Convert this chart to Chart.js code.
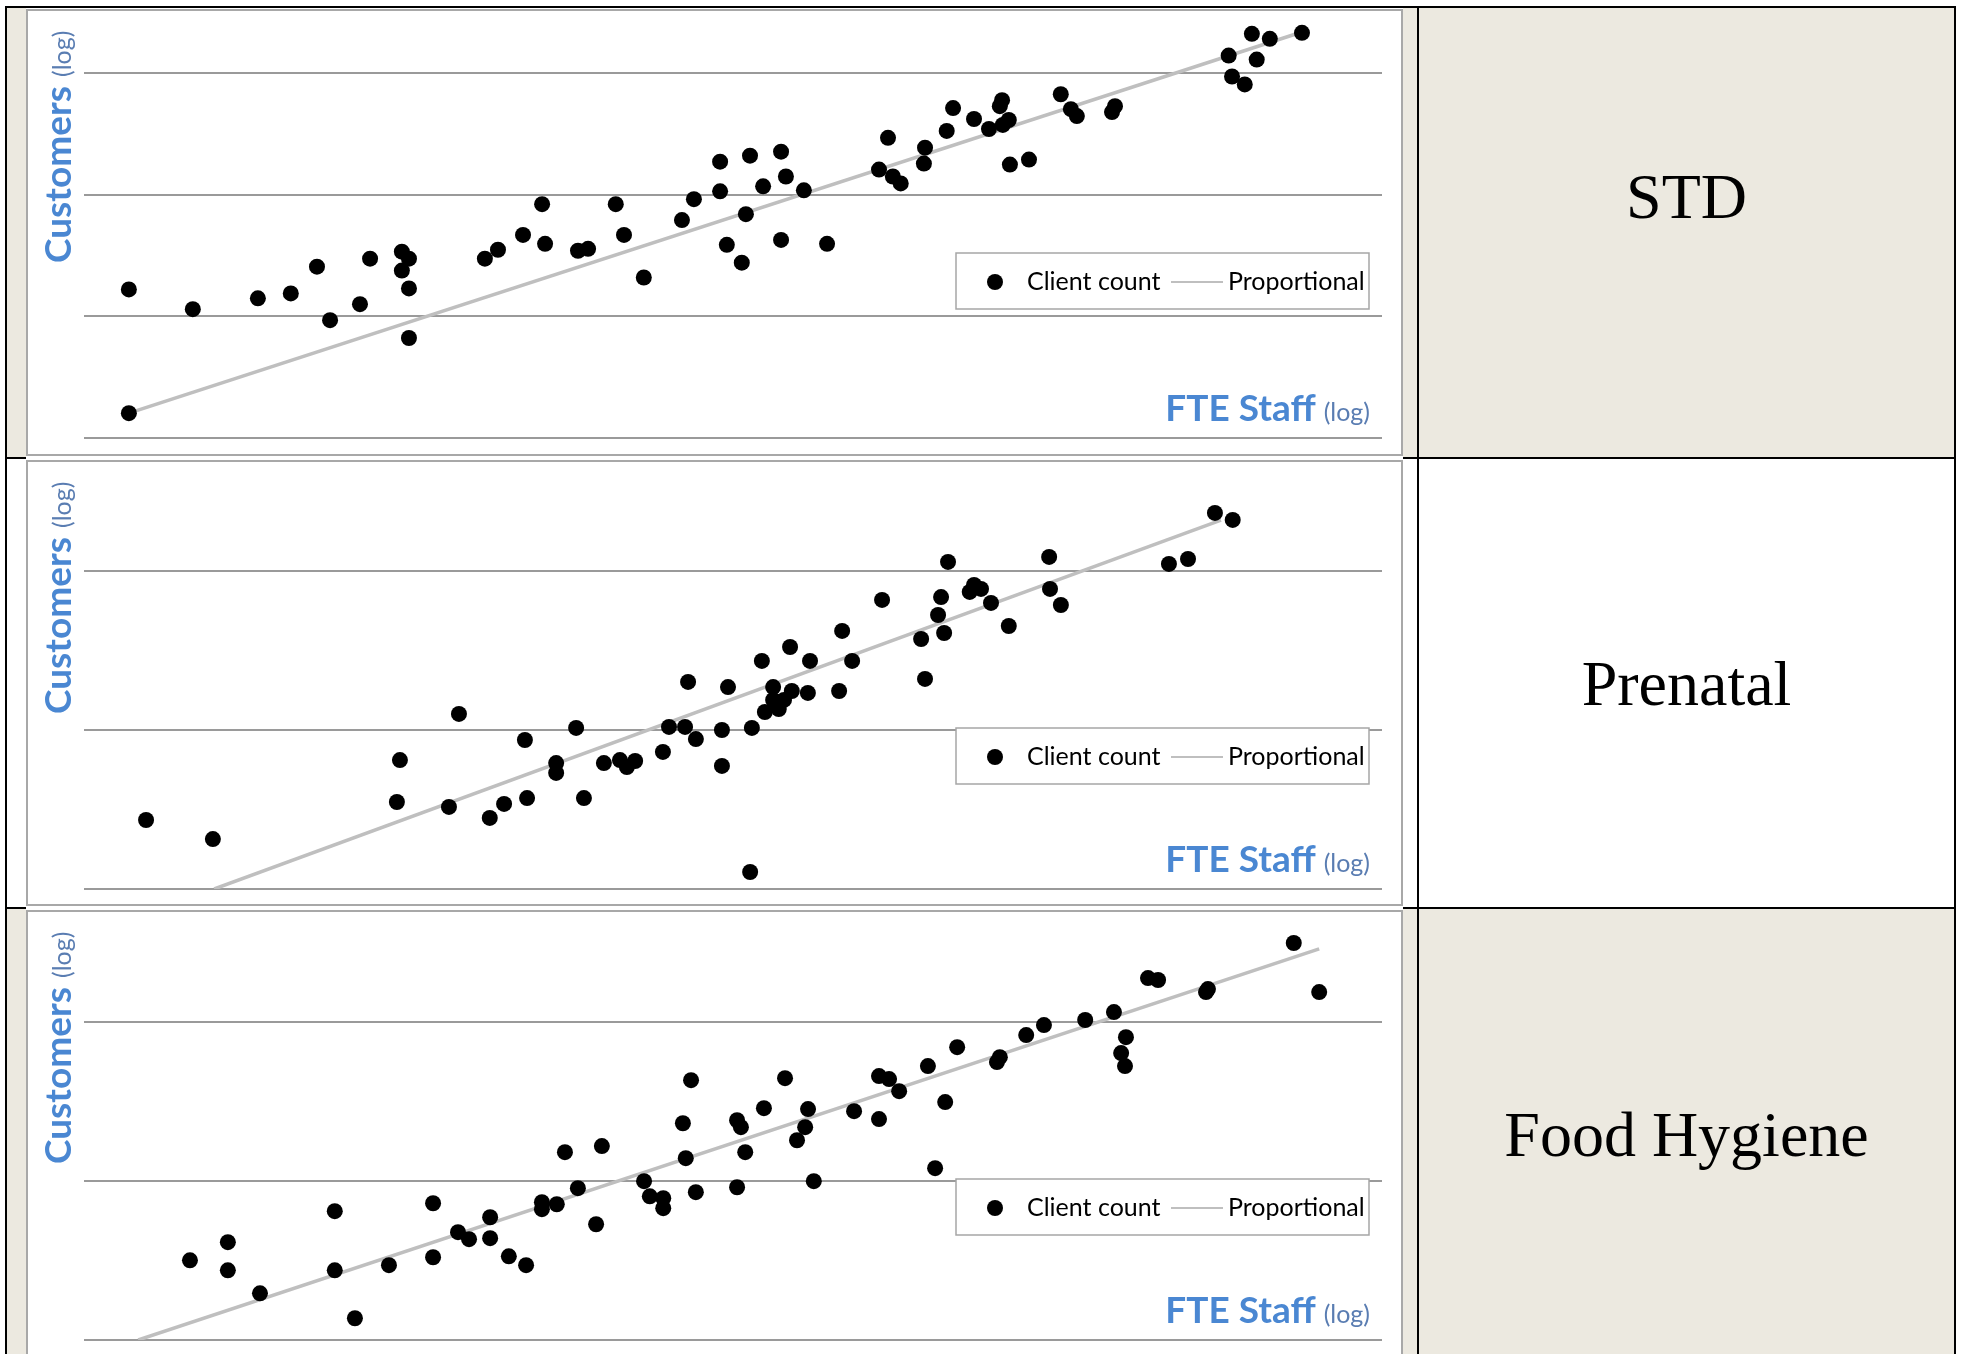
<!DOCTYPE html>
<html>
<head>
<meta charset="utf-8">
<script src="https://cdn.jsdelivr.net/npm/chart.js@4.4.1/dist/chart.umd.min.js"></script>
<style>
  html, body { margin: 0; padding: 0; background: #fff; }
  body { width: 1963px; height: 1354px; overflow: hidden; position: relative; }
  .abs { position: absolute; }
  .beige { background: #ECE9E0; }
  .rule { position: absolute; background: #000; }
  .cover { position: absolute; background: #fff; }
  .box { position: absolute; border: 2px solid #A8A8A8; background: #fff; }
  .box canvas { display: block; }
  .label {
    position: absolute; left: 1419px; width: 535px; text-align: center;
    font-family: "Liberation Serif", "Times New Roman", serif;
    font-size: 64px; line-height: 64px; color: #000; white-space: nowrap;
  }
</style>
</head>
<body>

<!-- table rows: shaded, plain, shaded -->
<div class="abs beige" style="left:7px; top:8px; width:1948px; height:449px;"></div>
<div class="abs beige" style="left:7px; top:909px; width:1948px; height:445px;"></div>

<!-- table rules -->
<div class="rule" style="left:5px; top:6px; width:1951px; height:2px;"></div>
<div class="rule" style="left:5px; top:457px; width:1951px; height:2px;"></div>
<div class="rule" style="left:5px; top:907px; width:1951px; height:2px;"></div>
<div class="rule" style="left:5px; top:6px; width:2px; height:1348px;"></div>
<div class="rule" style="left:1417px; top:6px; width:2px; height:1348px;"></div>
<div class="rule" style="left:1954px; top:6px; width:2px; height:1348px;"></div>

<!-- chart column background -->
<div class="cover" style="left:26px; top:8px; width:1377px; height:1346px;"></div>

<div class="box" style="left:26px; top:9px;"><canvas id="chartStd" width="1373" height="443"></canvas></div>
<div class="box" style="left:26px; top:460px;"><canvas id="chartPrenatal" width="1373" height="442"></canvas></div>
<div class="box" style="left:26px; top:910px;"><canvas id="chartFood" width="1373" height="446"></canvas></div>

<div class="label" id="label0" style="top:165px;"></div>
<div class="label" id="label1" style="top:652px;"></div>
<div class="label" id="label2" style="top:1103px;"></div>

<script>
// Service rows shown in the table
const services = ['STD', 'Prenatal', 'Food Hygiene'];
const seriesNames = ['Client count', 'Proportional'];
const yTitle = 'Customers';
const xTitle = 'FTE Staff';
const logNote = '(log)';

// Both axes are logarithmic; values are decades above each axis origin.
// STD
const stdStaff = [0.120,0.120,0.291,0.465,0.553,0.623,0.658,0.738,0.765,0.850,
  0.869,0.850,0.869,0.869,1.072,1.107,1.174,1.225,1.233,1.321,
  1.348,1.422,1.444,1.497,1.599,1.631,1.701,1.701,1.719,1.759,
  1.770,1.781,1.816,1.864,1.877,1.864,1.925,1.987,2.126,2.150,
  2.163,2.184,2.246,2.249,2.307,2.324,2.380,2.420,2.455,2.449,
  2.457,2.473,2.476,2.527,2.612,2.639,2.655,2.749,2.757,3.061,
  3.070,3.104,3.123,3.136,3.171,3.257];
const stdCustomers = [1.223,0.204,1.060,1.149,1.190,1.410,0.970,1.101,1.476,1.533,
  1.476,1.378,1.231,0.823,1.476,1.549,1.671,1.924,1.598,1.541,
  1.557,1.924,1.671,1.321,1.793,1.965,2.274,2.030,1.590,1.443,
  1.842,2.323,2.071,2.356,2.152,1.630,2.038,1.598,2.209,2.470,
  2.152,2.095,2.258,2.389,2.527,2.715,2.625,2.543,2.780,2.731,
  2.576,2.617,2.250,2.291,2.829,2.706,2.649,2.682,2.731,3.147,
  2.975,2.910,3.326,3.114,3.285,3.334];
const stdLineStaff = [0.120, 3.259];
const stdLineCustomers = [0.204, 3.343];
const stdGrid = [0, 1, 2, 3];

// Prenatal
const prenatalStaff = [0.143,0.297,0.721,0.728,0.841,0.864,0.935,0.968,1.016,1.021,
  1.088,1.088,1.134,1.152,1.198,1.235,1.251,1.270,1.334,1.348,
  1.385,1.392,1.410,1.470,1.470,1.484,1.535,1.539,1.562,1.569,
  1.588,1.588,1.601,1.613,1.631,1.627,1.668,1.673,1.740,1.747,
  1.770,1.839,1.929,1.938,1.968,1.975,1.982,1.991,2.041,2.051,
  2.067,2.090,2.131,2.224,2.226,2.251,2.500,2.544,2.606,2.647];
const prenatalCustomers = [0.434,0.314,0.547,0.811,0.516,1.101,0.447,0.535,0.937,0.572,
  0.792,0.730,1.013,0.572,0.792,0.811,0.767,0.805,0.862,1.019,
  1.019,1.302,0.943,1.000,0.774,1.270,0.107,1.013,1.434,1.113,
  1.270,1.189,1.132,1.189,1.245,1.522,1.233,1.434,1.245,1.623,
  1.434,1.818,1.572,1.321,1.723,1.836,1.610,2.057,1.868,1.912,
  1.887,1.799,1.654,2.088,1.887,1.786,2.044,2.075,2.365,2.321];
const prenatalLineStaff = [0.300, 2.620];
const prenatalLineCustomers = [0.000, 2.320];
const prenatalGrid = [0, 1, 2];

// Food Hygiene
const foodStaff = [0.221,0.300,0.300,0.367,0.523,0.523,0.565,0.636,0.728,0.728,
  0.780,0.803,0.847,0.847,0.886,0.922,0.955,0.955,0.986,1.003,
  1.030,1.068,1.080,1.168,1.180,1.208,1.208,1.249,1.255,1.266,
  1.276,1.362,1.370,1.362,1.379,1.418,1.462,1.487,1.504,1.510,
  1.522,1.606,1.658,1.658,1.679,1.700,1.760,1.775,1.796,1.821,
  1.904,1.910,1.965,2.002,2.088,2.148,2.173,2.163,2.171,2.219,
  2.240,2.340,2.344,2.523,2.576];
const foodCustomers = [0.502,0.616,0.439,0.294,0.811,0.439,0.137,0.471,0.861,0.521,
  0.679,0.635,0.773,0.641,0.527,0.471,0.868,0.824,0.855,1.183,
  0.956,0.729,1.221,1.000,0.905,0.893,0.830,1.365,1.145,1.636,
  0.931,1.384,1.340,0.962,1.183,1.460,1.649,1.258,1.340,1.454,
  1.000,1.441,1.662,1.391,1.643,1.567,1.725,1.082,1.498,1.844,
  1.750,1.781,1.920,1.983,2.015,2.065,1.907,1.807,1.725,2.279,
  2.267,2.191,2.210,2.500,2.191];
const foodLineStaff = [0.113, 2.576];
const foodLineCustomers = [0.000, 2.463];
const foodGrid = [0, 1, 2];

// ---- styling ----
const TITLE_BLUE = '#4A87D2';
const NOTE_BLUE = '#5A7DB2';
const FONT = 'Lato, "Open Sans", sans-serif';

const toPoints = (xs, ys) => xs.map((x, i) => ({ x: x, y: ys[i] }));

// Axis titles inside the frame and a boxed legend in the lower right.
const framePlugin = {
  id: 'frameDecor',
  afterDraw(chart, args, opts) {
    const ctx = chart.ctx;
    const area = chart.chartArea;
    const dsPts = chart.data.datasets[0];
    const dsLine = chart.data.datasets[1];

    // vertical title, reading upward
    ctx.save();
    ctx.translate(opts.yTitleX, opts.yTitleY);
    ctx.rotate(-Math.PI / 2);
    ctx.textAlign = 'left';
    ctx.textBaseline = 'alphabetic';
    ctx.font = 'bold 37px ' + FONT;
    ctx.fillStyle = TITLE_BLUE;
    ctx.fillText(yTitle, 0, 0);
    const yw = ctx.measureText(yTitle).width;
    ctx.font = '25px ' + FONT;
    ctx.fillStyle = NOTE_BLUE;
    ctx.fillText(logNote, yw + 9, 0);
    ctx.restore();

    // horizontal title at lower right of the plot
    ctx.save();
    ctx.textBaseline = 'alphabetic';
    ctx.textAlign = 'left';
    ctx.font = '25px ' + FONT;
    const nw = ctx.measureText(logNote).width;
    ctx.font = 'bold 37px ' + FONT;
    const xw = ctx.measureText(xTitle).width;
    const right = area.right - 12;
    const base = area.bottom - 17;
    ctx.fillStyle = TITLE_BLUE;
    ctx.fillText(xTitle, right - nw - 8 - xw, base);
    ctx.font = '25px ' + FONT;
    ctx.fillStyle = NOTE_BLUE;
    ctx.fillText(logNote, right - nw, base);
    ctx.restore();

    // legend
    const lx = area.right - 426, ly = opts.legendTop, lw = 413, lh = 56;
    ctx.save();
    ctx.fillStyle = '#fff';
    ctx.fillRect(lx, ly, lw, lh);
    ctx.lineWidth = 1.5;
    ctx.strokeStyle = '#A6A6A6';
    ctx.strokeRect(lx, ly, lw, lh);
    ctx.beginPath();
    ctx.rect(lx, ly, lw - 1, lh);
    ctx.clip();
    const cy = ly + lh / 2 + 1;
    ctx.fillStyle = dsPts.pointBackgroundColor;
    ctx.beginPath();
    ctx.arc(lx + 39, cy, dsPts.pointRadius, 0, Math.PI * 2);
    ctx.fill();
    ctx.font = '25px ' + FONT;
    ctx.fillStyle = '#000';
    ctx.textBaseline = 'middle';
    ctx.fillText(dsPts.label, lx + 71, cy);
    ctx.strokeStyle = dsLine.borderColor;
    ctx.lineWidth = 2;
    ctx.beginPath();
    ctx.moveTo(lx + 215, cy);
    ctx.lineTo(lx + 267, cy);
    ctx.stroke();
    ctx.fillText(dsLine.label, lx + 272, cy);
    ctx.restore();
  }
};

function buildChart(id, staff, customers, lineStaff, lineCustomers, grid, frame) {
  const ctx = document.getElementById(id).getContext('2d');
  return new Chart(ctx, {
    type: 'scatter',
    data: {
      datasets: [
        {
          label: seriesNames[0],
          data: toPoints(staff, customers),
          pointRadius: 8,
          pointHoverRadius: 8,
          pointBackgroundColor: '#000',
          pointBorderWidth: 0,
          clip: false,
          order: 0
        },
        {
          label: seriesNames[1],
          data: toPoints(lineStaff, lineCustomers),
          showLine: true,
          pointRadius: 0,
          borderColor: '#BFBFBF',
          borderWidth: 3.5,
          order: 1
        }
      ]
    },
    options: {
      responsive: false,
      animation: false,
      devicePixelRatio: 1,
      events: [],
      layout: { padding: frame.padding },
      plugins: {
        legend: { display: false },
        tooltip: { enabled: false },
        frameDecor: { yTitleX: 43, yTitleY: 252, legendTop: frame.legendTop }
      },
      scales: {
        x: { type: 'linear', min: 0, max: frame.xMax, display: false },
        y: {
          type: 'linear', min: 0, max: frame.yMax,
          afterBuildTicks: (s) => { s.ticks = grid.map(v => ({ value: v })); },
          afterFit: (s) => { s.width = 0; },
          ticks: { display: false },
          border: { display: false },
          grid: { color: '#9A9A9A', lineWidth: 2, drawTicks: false, tickLength: 0 }
        }
      }
    },
    plugins: [framePlugin]
  });
}

function build() {
  services.forEach((s, i) => { document.getElementById('label' + i).textContent = s; });
  buildChart('chartStd', stdStaff, stdCustomers, stdLineStaff, stdLineCustomers, stdGrid,
    { xMax: 3.471, yMax: 3.448, legendTop: 242, padding: { left: 56, right: 19, top: 4, bottom: 16 } });
  buildChart('chartPrenatal', prenatalStaff, prenatalCustomers, prenatalLineStaff, prenatalLineCustomers, prenatalGrid,
    { xMax: 2.991, yMax: 2.616, legendTop: 266, padding: { left: 56, right: 19, top: 11, bottom: 15 } });
  buildChart('chartFood', foodStaff, foodCustomers, foodLineStaff, foodLineCustomers, foodGrid,
    { xMax: 2.707, yMax: 2.626, legendTop: 267, padding: { left: 56, right: 19, top: 11, bottom: 18 } });
}

if (document.fonts && document.fonts.load) {
  Promise.all([
    document.fonts.load('bold 37px Lato'),
    document.fonts.load('25px Lato')
  ]).then(build, build);
} else {
  build();
}
</script>
</body>
</html>
